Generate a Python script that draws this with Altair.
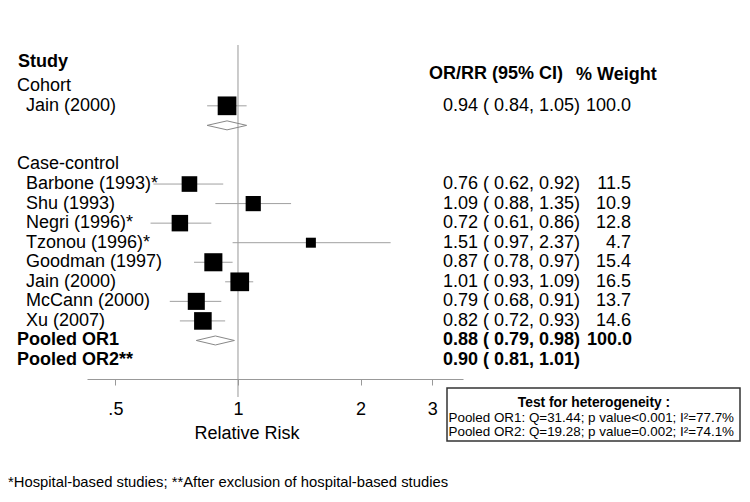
import altair as alt
import pandas as pd

# ---------------- data ----------------
cohort_label = "Cohort"
cohort_studies = ["Jain (2000)"]
cohort_or = [0.94]
cohort_lo = [0.84]
cohort_hi = [1.05]
cohort_w = [100.0]
cohort_pool = [0.94, 0.84, 1.05]

cc_label = "Case-control"
cc_studies = ["Barbone (1993)*", "Shu (1993)", "Negri (1996)*", "Tzonou (1996)*",
              "Goodman (1997)", "Jain (2000)", "McCann (2000)", "Xu (2007)"]
cc_or = [0.76, 1.09, 0.72, 1.51, 0.87, 1.01, 0.79, 0.82]
cc_lo = [0.62, 0.88, 0.61, 0.97, 0.78, 0.93, 0.68, 0.72]
cc_hi = [0.92, 1.35, 0.86, 2.37, 0.97, 1.09, 0.91, 0.93]
cc_w = [11.5, 10.9, 12.8, 4.7, 15.4, 16.5, 13.7, 14.6]

pooled_labels = ["Pooled OR1", "Pooled OR2**"]
pooled_or = [0.88, 0.90]
pooled_lo = [0.79, 0.81]
pooled_hi = [0.98, 1.01]
pooled_w = ["100.0", ""]
pooled_diamond = [True, False]

tick_values = [0.5, 1, 2, 3]
het_title = "Test for heterogeneity :"
het_lines = ["Pooled OR1: Q=31.44; p value<0.001; I²=77.7%",
             "Pooled OR2: Q=19.28; p value=0.002; I²=74.1%"]
footnote = "*Hospital-based studies; **After exclusion of hospital-based studies"

# ---------------- build tables ----------------
def ci_text(o, l, h):
    return f"{o:.2f} ( {l:.2f}, {h:.2f})"

groups, studies, diamonds, pooled = [], [], [], []
r = 1
groups.append(dict(label=cohort_label, row=r)); r += 1
for s, o, l, h, w in zip(cohort_studies, cohort_or, cohort_lo, cohort_hi, cohort_w):
    studies.append(dict(label=s, row=r, est=o, lo=l, hi=h, w=w,
                        ci=ci_text(o, l, h), wt=f"{w:.1f}"))
    r += 1
diamonds.append(dict(id="cohort", row=r, est=cohort_pool[0], lo=cohort_pool[1], hi=cohort_pool[2]))
r += 2
groups.append(dict(label=cc_label, row=r)); r += 1
for s, o, l, h, w in zip(cc_studies, cc_or, cc_lo, cc_hi, cc_w):
    studies.append(dict(label=s, row=r, est=o, lo=l, hi=h, w=w,
                        ci=ci_text(o, l, h), wt=f"{w:.1f}"))
    r += 1
for lab, o, l, h, w, d in zip(pooled_labels, pooled_or, pooled_lo, pooled_hi, pooled_w, pooled_diamond):
    pooled.append(dict(label=lab, row=r, ci=ci_text(o, l, h), wt=w))
    if d:
        diamonds.append(dict(id=lab, row=r, est=o, lo=l, hi=h))
    r += 1

HALF = 0.23
dpts = []
for d in diamonds:
    pts = [(d["lo"], d["row"]), (d["est"], d["row"] - HALF), (d["hi"], d["row"]),
           (d["est"], d["row"] + HALF), (d["lo"], d["row"])]
    for k, (x, y) in enumerate(pts):
        dpts.append(dict(id=d["id"], ord=k, x=x, y=y))

df_groups = pd.DataFrame(groups)
df_studies = pd.DataFrame(studies)
df_pooled = pd.DataFrame(pooled)
df_dpts = pd.DataFrame(dpts)

# ---------------- scales ----------------
W, H = 376, 334
xs = alt.Scale(type="log", domain=[0.4259, 3.568], nice=False)
ys = alt.Scale(domain=[-1.11, 15.97], reverse=True, zero=False, nice=False)
xaxis = alt.Axis(values=tick_values, title=None, grid=False,
                 labelExpr="datum.value == 0.5 ? '.5' : format(datum.value, '~g')",
                 domainColor="#999999", tickColor="#999999", tickSize=6,
                 labelFontSize=18, labelFont="Liberation Sans", labelColor="black",
                 labelPadding=15, labelFlush=False)
FONT = "Liberation Sans"

ref = alt.Chart(pd.DataFrame({"v": [1.0]})).mark_rule(color="#999999", strokeWidth=1).encode(
    x=alt.X("v:Q", scale=xs, axis=xaxis), y=alt.value(0), y2=alt.value(352))

ci = alt.Chart(df_studies).mark_rule(color="#a0a0a0", strokeWidth=1).encode(
    x=alt.X("lo:Q", scale=xs, axis=xaxis), x2="hi:Q",
    y=alt.Y("row:Q", scale=ys, axis=None))

dia = alt.Chart(df_dpts).mark_line(color="#888888", strokeWidth=1).encode(
    x=alt.X("x:Q", scale=xs, axis=xaxis), y=alt.Y("y:Q", scale=ys, axis=None),
    detail="id:N", order="ord:Q")

sq = alt.Chart(df_studies).mark_square(color="black", opacity=1).encode(
    x=alt.X("est:Q", scale=xs, axis=xaxis), y=alt.Y("row:Q", scale=ys, axis=None),
    size=alt.Size("w:Q", scale=alt.Scale(domain=[0, 16.5], range=[0, 350], clamp=True), legend=None))

def txt(df, field, x, align="left", bold=False, size=18):
    return alt.Chart(df).mark_text(align=align, baseline="middle", font=FONT, fontSize=size,
                                   fontWeight="bold" if bold else "normal", color="black").encode(
        x=alt.value(x), y=alt.Y("row:Q", scale=ys, axis=None), text=f"{field}:N")

def fixed(t, x, y, align="left", bold=False, size=18):
    return alt.Chart(pd.DataFrame({"t": [t]})).mark_text(
        align=align, baseline="middle", font=FONT, fontSize=size,
        fontWeight="bold" if bold else "normal", color="black").encode(
        x=alt.value(x), y=alt.value(y), text="t:N")

layers = [
    ref, ci, dia, sq,
    txt(df_groups, "label", -70),
    txt(df_studies, "label", -61),
    txt(df_pooled, "label", -70, bold=True),
    txt(df_studies, "ci", 356),
    txt(df_studies, "wt", 544, align="right"),
    txt(df_pooled, "ci", 356, bold=True),
    txt(df_pooled, "wt", 545, align="right", bold=True),
    fixed("Study", -69, 17, bold=True),
    fixed("OR/RR (95% CI)", 342, 29, bold=True),
    fixed("% Weight", 489, 30, bold=True),
    fixed("Relative Risk", 160, 389, align="center"),
    alt.Chart(pd.DataFrame({"t": [0]})).mark_rect(fill="white", stroke="#333333", strokeWidth=1.5).encode(
        x=alt.value(360), x2=alt.value(653), y=alt.value(343), y2=alt.value(396)),
    fixed(het_title, 507, 357.5, align="center", bold=True, size=13.8),
    fixed(het_lines[0], 361.5, 372.5, size=13.4),
    fixed(het_lines[1], 361.5, 387, size=13.4),
    fixed(footnote, -79, 438, size=14.8),
]

chart = alt.layer(*layers).properties(
    width=W, height=H,
    autosize=alt.AutoSizeParams(type="none"),
    padding={"left": 79, "top": 37, "right": 279, "bottom": 115},
    background="white",
).configure_view(stroke=None)

chart.save("out.html", embed_options={"renderer": "svg", "actions": False})
